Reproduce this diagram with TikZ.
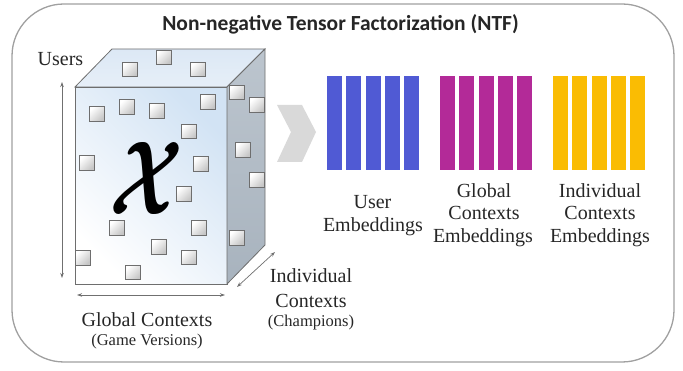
\documentclass[tikz,border=0pt]{standalone}
\usepackage{fontspec}
\setmainfont{Liberation Serif}
\newfontfamily\titlefont{Carlito}
\usepackage{bm}
\usepackage{graphicx}
\usetikzlibrary{arrows.meta}
\definecolor{ublue}{HTML}{505AD4}
\definecolor{gmag}{HTML}{B32A98}
\definecolor{iyel}{HTML}{FABC03}
\definecolor{frontc}{HTML}{D2E3F4}
\definecolor{topc}{HTML}{DCE8F5}
\definecolor{sidec}{HTML}{A8B3BE}
\definecolor{sidec2}{HTML}{BCC5CE}
\definecolor{edgec}{HTML}{6E6E6E}
\definecolor{framec}{HTML}{A0A0A0}
\definecolor{chevc}{HTML}{D9D9D9}
\definecolor{arrc}{HTML}{707070}
\definecolor{txtc}{HTML}{262626}
\begin{document}
\begin{tikzpicture}[x=1pt,y=-1pt,
  lbl/.style={font=\fontsize{20}{22}\selectfont, anchor=base, inner sep=0pt, text=txtc},
  small/.style={font=\fontsize{16.5}{18}\selectfont, anchor=base, inner sep=0pt, text=txtc},
  cell/.style={draw=edgec, line width=0.9pt, minimum width=15pt, minimum height=14.5pt,
    inner sep=0pt, top color=white, bottom color=gray!45, shading angle=45},
  bar/.style={minimum width=15pt, minimum height=94pt, inner sep=0pt, outer sep=0pt, anchor=north west},
  dimarrow/.style={draw=arrc, line width=0.7pt, {Stealth[length=5pt,width=3.5pt]}-{Stealth[length=5pt,width=3.5pt]}},
  face/.style={draw=edgec, line width=0.8pt}
]
\useasboundingbox (0,0) rectangle (683,371);
% frame
\draw[framec, line width=1.3pt, rounded corners=52pt] (12,4) rectangle (674,362);
% title
\node[font=\titlefont\bfseries\fontsize{21.5}{24}\selectfont, anchor=base, inner sep=0pt, text=txtc] (title) at (340.5,30.7) {Non-negative Tensor Factorization (NTF)};
% cube
\shade[face, top color=frontc, bottom color=white, shading angle=-45] (75,87) rectangle (227,284);
\shade[face, top color=topc, bottom color=topc!70!white] (75,87) -- (112,49) -- (265,49) -- (227,87) -- cycle;
\shade[face, top color=sidec2, bottom color=sidec] (227,87) -- (265,49) -- (265,245) -- (227,284) -- cycle;
\foreach \px/\py [count=\k] in {130/69.5, 163.5/57.5, 198/69.5,
  96.5/114, 126.7/107, 156.7/111, 207.5/102, 189/131.5, 86.7/163, 200.8/164.2, 184/194,
  116.5/228, 199/228, 159/247, 189/257.5, 82.5/258, 133/272.5,
  236.7/92.5, 257/105, 243/150, 257/180, 236.7/237.8}
  \node[cell] (c\k) at (\px,\py) {};
\node[inner sep=0pt, text=black] (X) at (147,178) {\resizebox{74pt}{72pt}{$\bm{\mathcal{X}}$}};
% dimension arrows
\coordinate (uT) at (62,82);
\coordinate (uB) at (62,278);
\draw[dimarrow] (uT) -- (uB);
\coordinate (gL) at (77,295);
\coordinate (gR) at (225,295);
\draw[dimarrow] (gL) -- (gR);
\coordinate (iA) at (237,287);
\coordinate (iB) at (275,252);
\draw[dimarrow] (iA) -- (iB);
% labels
\node[lbl] (users) at (60.5,66) {Users};
\node[lbl] (gc) at (147,326.7) {Global Contexts};
\node[small] (gv) at (147,345.7) {(Game Versions)};
\node[lbl] (ic1) at (311,283) {Individual};
\node[lbl] (ic2) at (311,307.7) {Contexts};
\node[small] (ch) at (311,326.7) {(Champions)};
% chevron
\fill[chevc] (277,105) -- (302,105) -- (316,132) -- (302,162) -- (277,162) -- (291,132) -- cycle;
% embeddings
\foreach \i in {0,...,4} {
  \node[bar, fill=ublue] (ub\i) at ({327+19.3*\i},76) {};
  \node[bar, fill=gmag] (gb\i) at ({440+19.3*\i},76) {};
  \node[bar, fill=iyel] (ib\i) at ({553+19.3*\i},76) {};
}
\node[lbl] (ue1) at (372.5,209) {User};
\node[lbl] (ue2) at (373,231.7) {Embeddings};
\node[lbl] (ge1) at (484,197.3) {Global};
\node[lbl] (ge2) at (484,220) {Contexts};
\node[lbl] (ge3) at (483,242.7) {Embeddings};
\node[lbl] (ie1) at (600,197.3) {Individual};
\node[lbl] (ie2) at (600,220) {Contexts};
\node[lbl] (ie3) at (600,242.7) {Embeddings};
\end{tikzpicture}
\end{document}
